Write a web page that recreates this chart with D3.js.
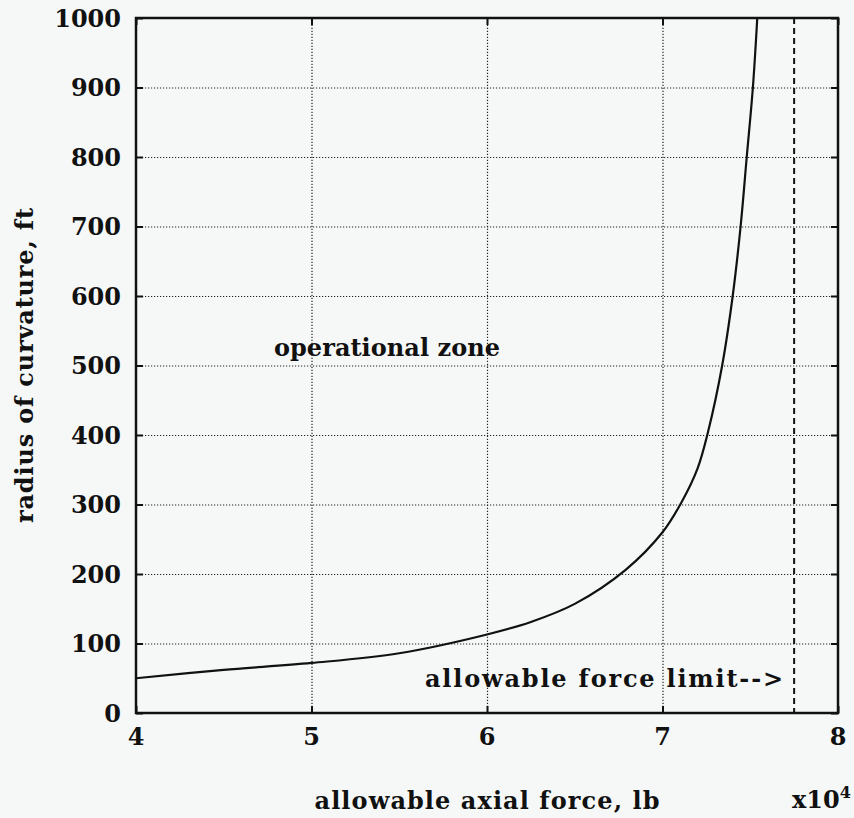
<!DOCTYPE html>
<html>
<head>
<meta charset="utf-8">
<script src="https://cdn.jsdelivr.net/npm/d3@7"></script>
<style>
  body { margin: 0; background: #f6f8f8; }
  svg text { font-family: "DejaVu Serif", "Liberation Serif", serif; font-weight: bold; fill: #111; }
</style>
</head>
<body>
<div id="fig"></div>
<script>
// allowable axial force (x10^4 lb) vs radius of curvature (ft)
var force  = [4.0, 4.5, 5.0, 5.5, 6.0, 6.25, 6.5, 6.79, 7.0, 7.11, 7.2, 7.26, 7.34, 7.40, 7.445, 7.48, 7.515, 7.54];
var radius = [50,  62,  72,  86,  113, 131,  157, 206,  260, 304,  352, 405,  500,  600,  700,   800,  900,   1000];

var xTicks = [4, 5, 6, 7, 8];
var yTicks = [0, 100, 200, 300, 400, 500, 600, 700, 800, 900, 1000];
var forceLimit = 7.75;

var W = 854, H = 818;
var m = {left: 136, right: 16, top: 18, bottom: 105};
var fs = 24;

var svg = d3.select("#fig").append("svg")
    .attr("width", W)
    .attr("height", H);

var x = d3.scaleLinear().domain([4, 8]).range([m.left, W - m.right]);
var y = d3.scaleLinear().domain([0, 1000]).range([H - m.bottom, m.top]);

var iw = x.range()[1] - x.range()[0],
    ih = y.range()[0] - y.range()[1];

// dotted grid
var grid = svg.append("g").attr("class", "grid");
grid.append("g")
    .attr("transform", "translate(0," + y(0) + ")")
    .call(d3.axisBottom(x).tickValues(xTicks.slice(1, -1)).tickSize(-ih).tickFormat(""));
grid.append("g")
    .attr("transform", "translate(" + x(4) + ",0)")
    .call(d3.axisLeft(y).tickValues(yTicks.slice(1, -1)).tickSize(-iw).tickFormat(""));
grid.selectAll(".domain").remove();
grid.selectAll("line")
    .attr("stroke", "#222")
    .attr("stroke-width", 1.2)
    .attr("stroke-dasharray", "1.2,1.8");

// inward ticks on all four sides
function ticks(g) {
  g.selectAll(".domain").remove();
  g.selectAll("line").attr("stroke", "#111").attr("stroke-width", 2);
}
svg.append("g").attr("transform", "translate(0," + y(0) + ")")
    .call(d3.axisTop(x).tickValues(xTicks).tickSize(7).tickFormat("")).call(ticks);
svg.append("g").attr("transform", "translate(0," + y(1000) + ")")
    .call(d3.axisBottom(x).tickValues(xTicks).tickSize(7).tickFormat("")).call(ticks);
svg.append("g").attr("transform", "translate(" + x(4) + ",0)")
    .call(d3.axisRight(y).tickValues(yTicks).tickSize(7).tickFormat("")).call(ticks);
svg.append("g").attr("transform", "translate(" + x(8) + ",0)")
    .call(d3.axisLeft(y).tickValues(yTicks).tickSize(7).tickFormat("")).call(ticks);

// tick labels
svg.append("g").selectAll("text")
  .data(xTicks).join("text")
    .attr("x", function(d) { return x(d); })
    .attr("y", y(0) + 32)
    .attr("text-anchor", "middle")
    .attr("font-size", fs)
    .text(function(d) { return d; });

svg.append("g").selectAll("text")
  .data(yTicks).join("text")
    .attr("x", x(4) - 15)
    .attr("y", function(d) { return y(d); })
    .attr("dy", "0.37em")
    .attr("text-anchor", "end")
    .attr("font-size", fs)
    .text(function(d) { return d; });

// frame
svg.append("rect")
    .attr("x", x(4)).attr("y", y(1000))
    .attr("width", iw).attr("height", ih)
    .attr("fill", "none")
    .attr("stroke", "#111")
    .attr("stroke-width", 2.5);

// force limit
svg.append("line")
    .attr("x1", x(forceLimit)).attr("x2", x(forceLimit))
    .attr("y1", y(1000)).attr("y2", y(0))
    .attr("stroke", "#111")
    .attr("stroke-width", 2)
    .attr("stroke-dasharray", "6,4");

// curve
var pts = force.map(function(f, i) { return [f, radius[i]]; });
svg.append("path")
    .datum(pts)
    .attr("fill", "none")
    .attr("stroke", "#111")
    .attr("stroke-width", 2.2)
    .attr("d", d3.line()
      .x(function(d) { return x(d[0]); })
      .y(function(d) { return y(d[1]); })
      .curve(d3.curveCatmullRom.alpha(0.5)));

// annotations
svg.append("text")
    .attr("x", 274).attr("y", 356)
    .attr("font-size", fs)
    .attr("textLength", 226).attr("lengthAdjust", "spacing")
    .text("operational zone");

svg.append("text")
    .attr("x", 425).attr("y", 687)
    .attr("font-size", fs)
    .attr("textLength", 358).attr("lengthAdjust", "spacing")
    .text("allowable force limit-->");

// axis titles, centred on the plot box
svg.append("text")
    .attr("x", (x(4) + x(8)) / 2).attr("y", 809)
    .attr("text-anchor", "middle")
    .attr("font-size", fs)
    .attr("textLength", 345).attr("lengthAdjust", "spacing")
    .text("allowable axial force, lb");

var mult = svg.append("text")
    .attr("x", 792).attr("y", 808)
    .attr("font-size", fs);
mult.append("tspan").text("x10");
mult.append("tspan").attr("dy", -10).attr("font-size", 16).text("4");

svg.append("text")
    .attr("transform", "translate(33," + (y(0) + y(1000)) / 2 + ") rotate(-90)")
    .attr("text-anchor", "middle")
    .attr("font-size", fs)
    .attr("textLength", 315).attr("lengthAdjust", "spacing")
    .text("radius of curvature, ft");
</script>
</body>
</html>
